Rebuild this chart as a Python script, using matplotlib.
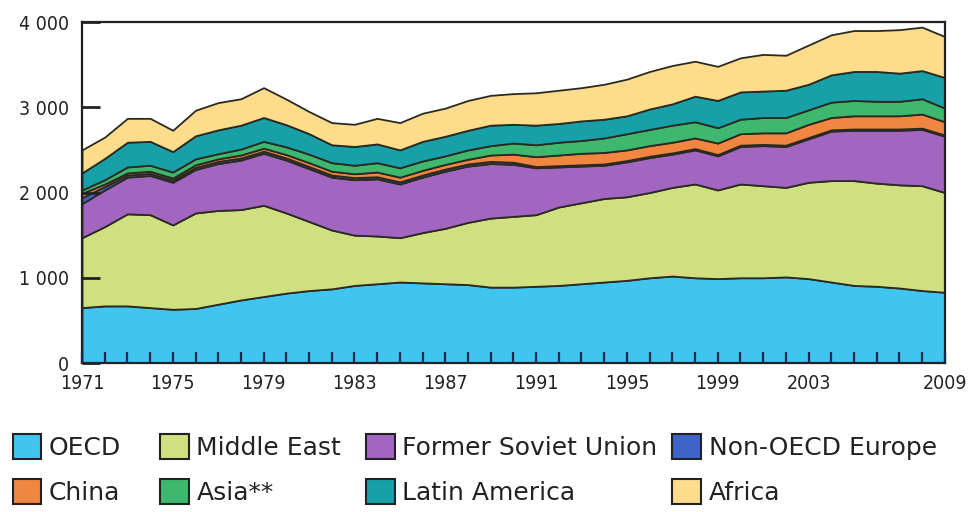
import matplotlib
matplotlib.use('Agg')
import matplotlib.pyplot as plt
from matplotlib.patches import Patch
import numpy as np

years = list(range(1971, 2010))

oecd = [650, 670, 670, 650, 630, 640, 690, 740, 780, 820, 850, 870, 910, 930, 950, 940, 930, 920, 890, 890,
        900, 910, 930, 950, 970, 1000, 1020, 1000, 990, 1000, 1000, 1010, 990, 950, 910, 900, 880, 850, 830]
middle_east = [820, 930, 1080, 1090, 990, 1120, 1100, 1060, 1070, 940, 810, 690, 590, 560, 520, 590, 650, 730, 810, 830,
               840, 920, 950, 980, 980, 1000, 1040, 1100, 1040, 1100, 1080, 1050, 1130, 1190, 1230, 1210, 1210, 1230, 1170]
former_ussr = [400, 430, 430, 460, 500, 510, 550, 580, 610, 620, 620, 620, 650, 670, 630, 650, 670, 660, 640, 610,
               550, 470, 430, 390, 410, 410, 390, 400, 400, 440, 470, 480, 510, 580, 590, 620, 640, 660, 660]
non_oecd_europe = [70, 40, 25, 25, 25, 25, 25, 25, 25, 25, 25, 25, 25, 25, 25, 25, 25, 25, 25, 25,
                   15, 15, 15, 15, 15, 15, 15, 15, 15, 15, 15, 15, 15, 15, 15, 15, 15, 15, 15]
china = [50, 30, 25, 25, 25, 30, 30, 35, 35, 40, 45, 45, 45, 55, 55, 55, 55, 55, 75, 95,
         115, 125, 135, 135, 125, 125, 125, 125, 135, 135, 135, 145, 155, 145, 155, 155, 155, 165, 155]
asia = [40, 50, 70, 70, 70, 70, 60, 70, 80, 90, 100, 100, 100, 110, 110, 110, 100, 110, 110, 130,
        140, 150, 150, 170, 190, 190, 200, 190, 180, 170, 180, 180, 170, 180, 180, 170, 170, 180, 160]
latin_america = [200, 250, 290, 280, 240, 270, 280, 280, 280, 260, 240, 210, 220, 220, 210, 230, 230, 230, 240, 220,
                 230, 220, 230, 220, 210, 240, 250, 300, 320, 320, 310, 320, 300, 320, 340, 350, 330, 330, 360]
africa = [270, 250, 280, 270, 250, 300, 320, 310, 350, 300, 260, 260, 260, 300, 320, 330, 330, 350, 350, 360,
          380, 390, 390, 410, 430, 440, 450, 410, 400, 400, 430, 410, 460, 470, 480, 480, 510, 510, 480]

labels = ['OECD', 'Middle East', 'Former Soviet Union', 'Non-OECD Europe',
          'China', 'Asia**', 'Latin America', 'Africa']
colors = ['#40c4f0', '#d0df80', '#a366c0', '#3e64c8', '#f08640', '#3db86e', '#17a0a8', '#fddc8c']
label_years = [1971, 1975, 1979, 1983, 1987, 1991, 1995, 1999, 2003, 2009]

fig = plt.figure(figsize=(9.76, 5.12), dpi=100)
ax = fig.add_axes([0.084, 0.291, 0.884, 0.666])

ax.stackplot(years, oecd, middle_east, former_ussr, non_oecd_europe, china, asia, latin_america, africa,
             colors=colors, edgecolor='#2a2a22', linewidth=1.3)

ax.set_xlim(1971, 2009)
ax.set_ylim(0, 4000)

tick_font = {'family': 'DejaVu Sans', 'stretch': 'condensed', 'size': 14}
ax.set_yticks([0, 1000, 2000, 3000, 4000])
ax.set_yticklabels(['0', '1 000', '2 000', '3 000', '4 000'], fontdict=tick_font, color='#222222')
ax.tick_params(axis='y', direction='in', length=13, width=2, color='#222222', pad=9)

ax.set_xticks(years)
ax.set_xticklabels([str(y) if y in label_years else '' for y in years], fontdict=tick_font, color='#222222')
ax.tick_params(axis='x', direction='in', length=8, width=1.6, color='#1c2a4a', pad=8)

for s in ax.spines.values():
    s.set_linewidth(1.6)
    s.set_color('#222222')
ax.set_axisbelow(False)

# legend: four columns placed like the original, two rows each
handles = [Patch(facecolor=c, edgecolor='#222222', linewidth=1.5) for c in colors]
col_x = [0.013, 0.164, 0.375, 0.689]
for i, x in enumerate(col_x):
    fig.legend([handles[i], handles[i + 4]], [labels[i], labels[i + 4]],
               loc='center left', bbox_to_anchor=(x, 0.083), borderpad=0, borderaxespad=0,
               frameon=False, fontsize=18, handlelength=1.15, handleheight=1.15,
               handletextpad=0.3, labelspacing=0.76, labelcolor='#222222')

fig.savefig('out.png', dpi=100)
